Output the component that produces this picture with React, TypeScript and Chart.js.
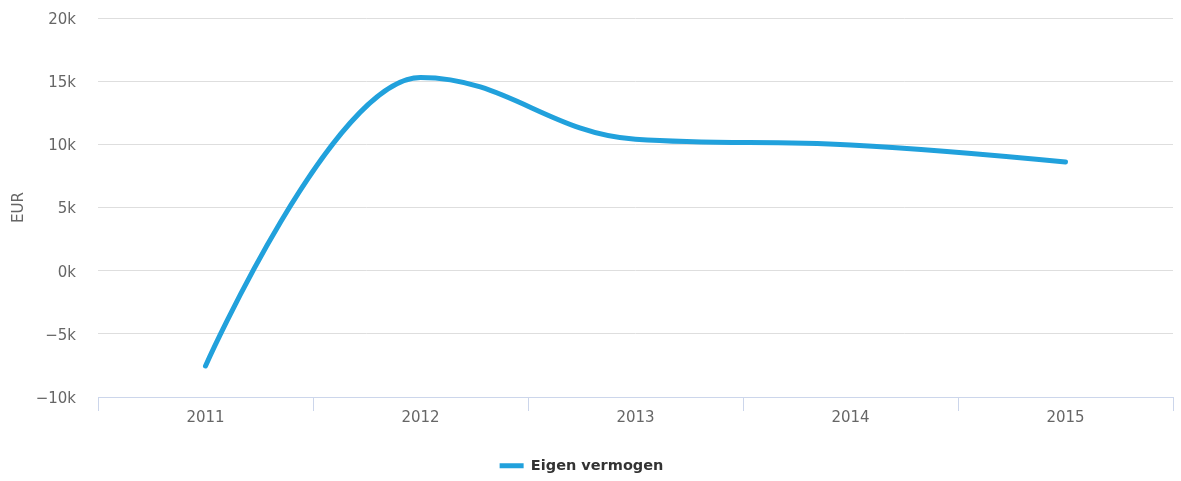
import { useEffect, useRef } from 'react';
import { Chart, registerables } from 'chart.js';

Chart.register(...registerables);

// ---- data ----
const years: string[] = ['2011', '2012', '2013', '2014', '2015'];
const eigenVermogen: number[] = [-7540, 15290, 10400, 9950, 8600];
const seriesName = 'Eigen vermogen';
const yAxisTitle = 'EUR';
const yTickValues: number[] = [-10000, -5000, 0, 5000, 10000, 15000, 20000];
const yTickLabels: string[] = ['\u221210k', '\u22125k', '0k', '5k', '10k', '15k', '20k'];

// ---- styles ----
const LINE_COLOR = '#21a1dc';
const FONT = 'DejaVu Sans';

// Highcharts-like spline control points (smoothing 1.5, flat at local extremes)
const splinePlugin = {
  id: 'hcSpline',
  beforeDatasetsDraw(chart: any) {
    chart.data.datasets.forEach((_: any, di: number) => {
      const meta = chart.getDatasetMeta(di);
      const line = meta.dataset;
      const pts = meta.data;
      if (!line || !pts || pts.length < 2) return;
      line.updateControlPoints(chart.chartArea, 'x');
      const smoothing = 1.5;
      const denom = smoothing + 1;
      for (let i = 0; i < pts.length; i++) {
        const p = pts[i];
        if (i === 0 || i === pts.length - 1) {
          p.cp1x = p.x; p.cp1y = p.y; p.cp2x = p.x; p.cp2y = p.y;
          continue;
        }
        const last = pts[i - 1];
        const next = pts[i + 1];
        const plotX = p.x, plotY = p.y;
        const lastX = last.x, lastY = last.y, nextX = next.x, nextY = next.y;
        const leftContX = (smoothing * plotX + lastX) / denom;
        let leftContY = (smoothing * plotY + lastY) / denom;
        const rightContX = (smoothing * plotX + nextX) / denom;
        let rightContY = (smoothing * plotY + nextY) / denom;
        let correction = 0;
        if (rightContX !== leftContX) {
          correction = ((rightContY - leftContY) * (rightContX - plotX)) / (rightContX - leftContX) + plotY - rightContY;
        }
        leftContY += correction;
        rightContY += correction;
        if (leftContY > lastY && leftContY > plotY) {
          leftContY = Math.max(lastY, plotY);
          rightContY = 2 * plotY - leftContY;
        } else if (leftContY < lastY && leftContY < plotY) {
          leftContY = Math.min(lastY, plotY);
          rightContY = 2 * plotY - leftContY;
        }
        if (rightContY > nextY && rightContY > plotY) {
          rightContY = Math.max(nextY, plotY);
          leftContY = 2 * plotY - rightContY;
        } else if (rightContY < nextY && rightContY < plotY) {
          rightContY = Math.min(nextY, plotY);
          leftContY = 2 * plotY - rightContY;
        }
        p.cp1x = leftContX; p.cp1y = leftContY;
        p.cp2x = rightContX; p.cp2y = rightContY;
      }
      line._path = undefined;
    });
  },
};

// nudge the legend to the reference position
const legendShiftPlugin = {
  id: 'legendShift',
  afterLayout(chart: any) {
    const lg = chart.legend;
    if (!lg) return;
    const dx = -5;
    const dy = 2;
    lg.left += dx; lg.right += dx;
    lg.top += dy; lg.bottom += dy;
  },
};

export default function App() {
  const canvasRef = useRef<HTMLCanvasElement | null>(null);

  useEffect(() => {
    document.body.style.margin = '0';
    const canvas = canvasRef.current;
    if (!canvas) return;
    const chart = new Chart(canvas, {
      type: 'line',
      data: {
        labels: years,
        datasets: [
          {
            label: seriesName,
            data: eigenVermogen,
            borderColor: LINE_COLOR,
            backgroundColor: LINE_COLOR,
            borderWidth: 5,
            borderCapStyle: 'round',
            borderJoinStyle: 'round',
            pointRadius: 0,
            pointHoverRadius: 0,
            tension: 0.4,
            fill: false,
          },
        ],
      },
      options: {
        animation: false,
        responsive: true,
        maintainAspectRatio: false,
        events: [],
        layout: { padding: { left: 0, right: 8, top: 18, bottom: 0 } },
        plugins: {
          tooltip: { enabled: false },
          legend: {
            display: true,
            position: 'bottom',
            align: 'center',
            labels: {
              boxWidth: 24,
              boxHeight: 5,
              color: '#333333',
              padding: 10,
              font: { family: FONT, size: 14.5, weight: 'bold' },
              generateLabels: (c: any) =>
                Chart.defaults.plugins.legend.labels.generateLabels(c).map((l: any) => ({
                  ...l,
                  lineWidth: 0,
                  fillStyle: LINE_COLOR,
                  strokeStyle: LINE_COLOR,
                })),
            },
          },
        },
        scales: {
          x: {
            type: 'category',
            offset: true,
            grid: {
              offset: true,
              drawOnChartArea: false,
              drawTicks: true,
              tickLength: 14,
              color: '#ccd6eb',
              lineWidth: 1,
            },
            border: { display: true, color: '#ccd6eb', width: 1 },
            ticks: {
              color: '#666666',
              font: { family: FONT, size: 15 },
              padding: -2,
              maxRotation: 0,
              autoSkip: false,
            },
            afterFit: (scale: any) => {
              scale.height = 49.5;
            },
          },
          y: {
            type: 'linear',
            min: yTickValues[0],
            max: yTickValues[yTickValues.length - 1],
            afterBuildTicks: (scale: any) => {
              scale.ticks = yTickValues.map((v) => ({ value: v }));
            },
            grid: {
              color: '#dedede',
              lineWidth: 1,
              drawTicks: true,
              tickLength: 22,
              tickColor: 'rgba(0,0,0,0)',
            },
            border: { display: false },
            ticks: {
              color: '#666666',
              font: { family: FONT, size: 15 },
              padding: 0,
              labelOffset: 2,
              callback: (value: any) => {
                const idx = yTickValues.indexOf(Number(value));
                return idx >= 0 ? yTickLabels[idx] : '';
              },
            },
            title: {
              display: true,
              text: yAxisTitle,
              color: '#666666',
              font: { family: FONT, size: 15 },
              padding: { top: 10, bottom: 0 },
            },
            afterFit: (scale: any) => {
              scale.width = 98;
            },
          },
        },
      },
      plugins: [splinePlugin, legendShiftPlugin],
    } as any);
    return () => {
      chart.destroy();
    };
  }, []);

  return (
    <div style={{ position: 'relative', width: '1181px', height: '481px' }}>
      <canvas ref={canvasRef} />
    </div>
  );
}
